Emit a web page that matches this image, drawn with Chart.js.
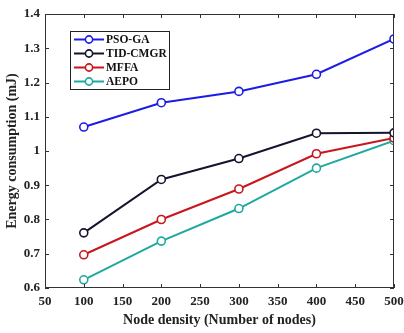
<!DOCTYPE html>
<html>
<head>
<meta charset="utf-8">
<script src="https://cdn.jsdelivr.net/npm/chart.js@4"></script>
<style>
    html, body { margin: 0; padding: 0; background: #fff; }
    #wrap { width: 404px; height: 333px; }
</style>
</head>
<body>
<div id="wrap"><canvas id="energyChart" width="404" height="333"></canvas></div>
<script>
// Chart data
const nodeCounts = [100, 200, 300, 400, 500];
const psoGa = [1.07, 1.141, 1.174, 1.224, 1.327];
const tidCmgr = [0.761, 0.917, 0.978, 1.052, 1.053];
const mffa = [0.697, 0.8, 0.889, 0.992, 1.038];
const aepo = [0.624, 0.737, 0.832, 0.95, 1.03];
const seriesNames = ['PSO-GA', 'TID-CMGR', 'MFFA', 'AEPO'];
const xTicks = [50, 100, 150, 200, 250, 300, 350, 400, 450, 500];
const yTicks = [0.6, 0.7, 0.8, 0.9, 1.0, 1.1, 1.2, 1.3, 1.4];

const colors = ['#1c1ce6', '#14142e', '#c8161c', '#1fa89f'];
const fontFamily = '"Liberation Serif", "Times New Roman", serif';

function makeSet(label, values, color) {
    return {
        label: label,
        data: values.map((v, i) => ({ x: nodeCounts[i], y: v })),
        borderColor: color,
        backgroundColor: color,
        pointBackgroundColor: '#fff',
        pointBorderColor: color,
        pointBorderWidth: 1.6,
        pointRadius: 4,
        borderWidth: 2,
        tension: 0
    };
}

// Inward ticks, top/right frame and the boxed legend
const framePlugin = {
    id: 'frame',
    afterDraw(chart) {
        const ctx = chart.ctx;
        const area = chart.chartArea;
        const xs = chart.scales.x;
        const ys = chart.scales.y;
        ctx.save();
        ctx.strokeStyle = '#333';
        ctx.lineWidth = 1;
        ctx.strokeRect(area.left + 0.5, area.top + 0.5, area.right - area.left - 1, area.bottom - area.top - 1);
        xTicks.forEach(t => {
            const px = Math.round(xs.getPixelForValue(t)) + 0.5;
            ctx.beginPath();
            ctx.moveTo(px, area.bottom); ctx.lineTo(px, area.bottom - 4);
            ctx.moveTo(px, area.top); ctx.lineTo(px, area.top + 4);
            ctx.stroke();
        });
        yTicks.forEach(t => {
            const py = Math.round(ys.getPixelForValue(t)) + 0.5;
            ctx.beginPath();
            ctx.moveTo(area.left, py); ctx.lineTo(area.left + 4, py);
            ctx.moveTo(area.right, py); ctx.lineTo(area.right - 4, py);
            ctx.stroke();
        });

        // legend
        const lx = 70, ly = 31, lw = 99, lh = 58;
        ctx.fillStyle = '#fff';
        ctx.fillRect(lx, ly, lw, lh);
        ctx.strokeStyle = '#222';
        ctx.strokeRect(lx + 0.5, ly + 0.5, lw, lh);
        ctx.font = 'bold 11.5px ' + fontFamily;
        ctx.textBaseline = 'middle';
        chart.data.datasets.forEach((ds, i) => {
            const y = ly + 8.5 + i * 14;
            ctx.strokeStyle = ds.borderColor;
            ctx.lineWidth = 2;
            ctx.beginPath();
            ctx.moveTo(lx + 4, y); ctx.lineTo(lx + 34, y);
            ctx.stroke();
            ctx.beginPath();
            ctx.fillStyle = '#fff';
            ctx.lineWidth = 1.6;
            ctx.arc(lx + 19, y, 3.6, 0, Math.PI * 2);
            ctx.fill();
            ctx.stroke();
            ctx.fillStyle = '#111';
            ctx.fillText(ds.label, lx + 36, y + 0.5);
        });
        ctx.restore();
    }
};

const chart = new Chart(document.getElementById('energyChart'), {
    type: 'line',
    data: {
        datasets: seriesNames.map((name, i) =>
            makeSet(name, [psoGa, tidCmgr, mffa, aepo][i], colors[i]))
    },
    options: {
        responsive: false,
        animation: false,
        layout: { padding: { top: 14, right: 4, left: 0, bottom: 0 } },
        plugins: {
            legend: { display: false },
            tooltip: { enabled: false }
        },
        scales: {
            x: {
                type: 'linear',
                min: 50,
                max: 500,
                afterFit(scale) { scale.height = 45; scale.paddingRight = 10; },
                afterBuildTicks(scale) { scale.ticks = xTicks.map(v => ({ value: v })); },
                grid: { drawOnChartArea: false, drawTicks: false },
                border: { display: false },
                ticks: {
                    color: '#222',
                    padding: 6,
                    maxRotation: 0,
                    font: { family: fontFamily, size: 13, weight: 'bold' }
                },
                title: {
                    display: true,
                    text: 'Node density (Number of nodes)',
                    color: '#222',
                    padding: { top: 1 },
                    font: { family: fontFamily, size: 14, weight: 'bold' }
                }
            },
            y: {
                min: 0.6,
                max: 1.4,
                afterFit(scale) { scale.width = 45; },
                afterBuildTicks(scale) { scale.ticks = yTicks.map(v => ({ value: v })); },
                grid: { drawOnChartArea: false, drawTicks: false },
                border: { display: false },
                ticks: {
                    color: '#222',
                    padding: 5,
                    callback: v => String(Math.round(v * 10) / 10),
                    font: { family: fontFamily, size: 13, weight: 'bold' }
                },
                title: {
                    display: true,
                    text: 'Energy consumption (mJ)',
                    color: '#222',
                    padding: { bottom: 0 },
                    font: { family: fontFamily, size: 14, weight: 'bold' }
                }
            }
        }
    },
    plugins: [framePlugin]
});
</script>
</body>
</html>
